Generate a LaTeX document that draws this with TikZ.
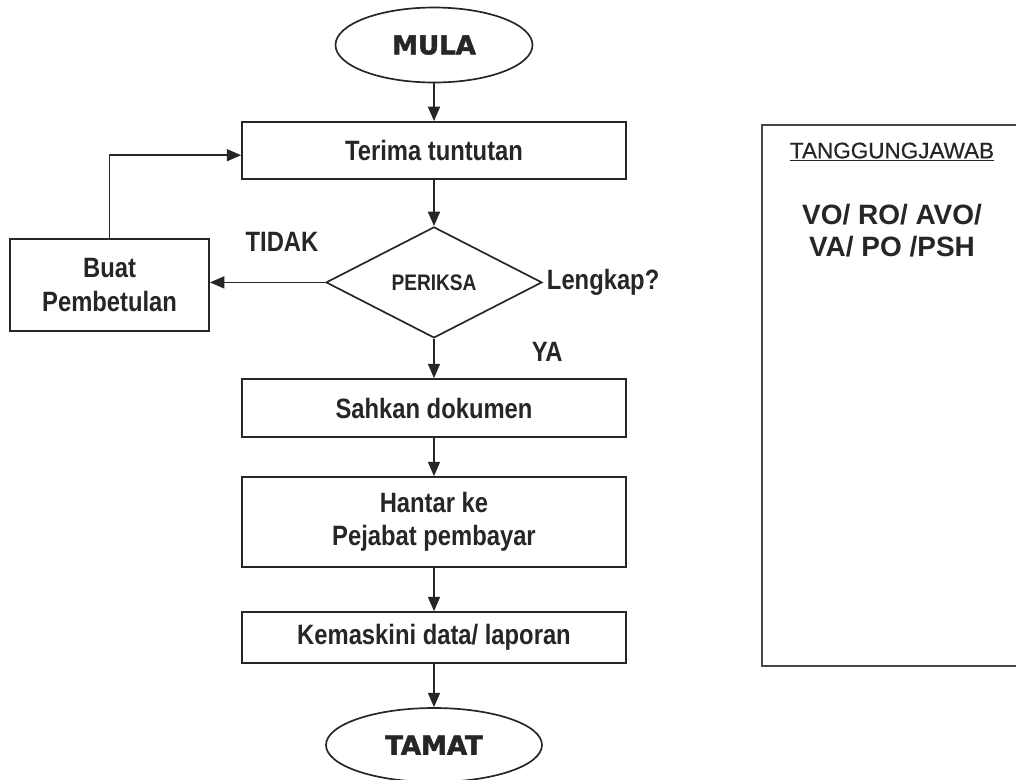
\documentclass[tikz,border=0pt]{standalone}
\usepackage{fontspec}
\setmainfont{Liberation Sans}
\newfontfamily\narrowfont{Liberation Sans}[FakeStretch=0.85]
\newfontfamily\heavyfont{DejaVu Sans}[FakeBold=2]
\newfontfamily\headfont{Liberation Sans}[FakeBold=0.6]
\usetikzlibrary{shapes.geometric, arrows.meta, positioning}
\definecolor{ink}{HTML}{262626}

\begin{document}
\begin{tikzpicture}[
  box/.style={rectangle, draw=ink, line width=1.2pt, minimum width=9.6cm, minimum height=1.45cm, align=center, text=ink, font=\narrowfont\bfseries\fontsize{19.9}{23.5}\selectfont},
  term/.style={ellipse, draw=ink, line width=1.2pt, inner sep=0pt, text=ink, font=\heavyfont\bfseries\fontsize{18.5}{22}\selectfont},
  check/.style={diamond, draw=ink, line width=1.2pt, inner sep=0pt, aspect=1.95, minimum width=5.4cm, minimum height=2.775cm, text=ink, font=\narrowfont\bfseries\fontsize{16}{19}\selectfont},
  lbl/.style={text=ink, font=\narrowfont\bfseries\fontsize{19.9}{23.5}\selectfont},
  arrow/.style={-{Triangle[length=3.6mm, width=3mm]}, draw=ink, line width=1.2pt}
]
  \useasboundingbox (0,0) rectangle (25.4,-19.475);

  \node[term, minimum width=4.925cm, minimum height=1.875cm] (mula) at (10.85,-1.125) {MULA};
  \node[box, minimum height=1.425cm] (terima) at (10.85,-3.76) {Terima tuntutan};
  \node[check] (periksa) at (10.85,-7.06) {PERIKSA};
  \node[box, minimum width=4.975cm, minimum height=2.3cm] (buat) at (2.74,-7.125) {Buat\\Pembetulan};
  \node[box] (sahkan) at (10.85,-10.2) {Sahkan dokumen};
  \node[box, minimum height=2.25cm] (hantar) at (10.85,-13.05) {Hantar ke\\Pejabat pembayar};
  \node[box, minimum height=1.275cm] (kemaskini) at (10.85,-15.94) {Kemaskini data/ laporan};
  \node[term, minimum width=5.4cm, minimum height=1.85cm] (tamat) at (10.85,-18.625) {TAMAT};

  \node[lbl] (tidak) at (7.05,-6.05) {TIDAK};
  \node[lbl, anchor=west] (lengkap) at (13.55,-7.07) {Lengkap?};
  \node[lbl] (ya) at (13.68,-8.8) {YA};

  % panel tanggungjawab
  \draw[ink!85, line width=1pt] (25.4,-3.125) -- (19.05,-3.125) -- (19.05,-16.65) -- (25.4,-16.65);
  \node[text=ink, font=\headfont\fontsize{16}{19}\selectfont] (tanggung) at (22.3,-3.8) {\underline{TANGGUNGJAWAB}};
  \node[align=center, text=ink, font=\bfseries\fontsize{19.9}{22.8}\selectfont] (peranan) at (22.3,-5.775) {VO/ RO/ AVO/\\VA/ PO /PSH};

  \draw[arrow] (mula) -- (terima);
  \draw[arrow] (terima) -- (periksa);
  \draw[arrow] (periksa.west) -- (periksa.west -| buat.east);
  \draw[arrow] (buat.north) |- ([yshift=-0.12cm]terima.west);
  \draw[arrow] (periksa) -- (sahkan);
  \draw[arrow] (sahkan) -- (hantar);
  \draw[arrow] (hantar) -- (kemaskini);
  \draw[arrow] (kemaskini) -- (tamat);
\end{tikzpicture}
\end{document}
